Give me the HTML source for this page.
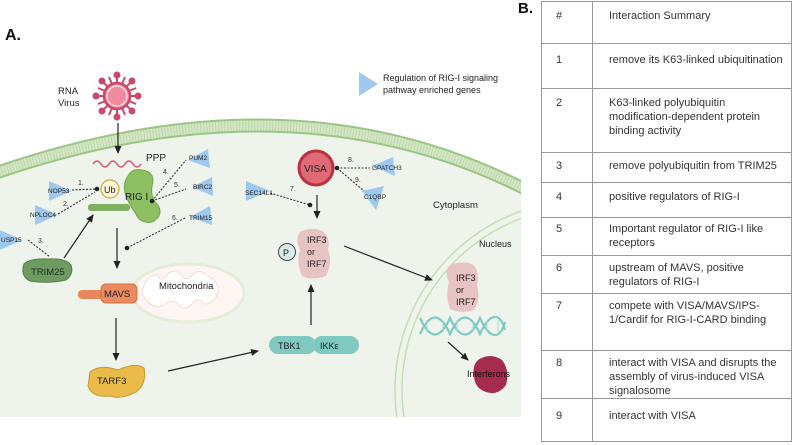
<!DOCTYPE html>
<html><head><meta charset="utf-8"><style>
html,body{margin:0;width:793px;height:445px;overflow:hidden}
body{background:#fff;font-family:"Liberation Sans",sans-serif;position:relative}
svg{position:absolute;left:0;top:0;display:block}
svg text{font-family:"Liberation Sans",sans-serif}
.h{position:absolute;left:541px;width:251px;height:1px;background:#999}
.v{position:absolute;top:1px;width:1px;height:441px;background:#999}
.c1{position:absolute;left:556px;font-size:11px;color:#333}
.c2{position:absolute;left:609px;width:180px;font-size:11px;line-height:14px;color:#333}
</style></head><body>
<svg width="530" height="440" viewBox="0 0 530 440">
<defs>
<clipPath id="pc"><rect x="0" y="0" width="521" height="417"/></clipPath>
<marker id="ar" markerWidth="8" markerHeight="8" refX="7" refY="4" orient="auto" markerUnits="userSpaceOnUse"><path d="M0,0.5 L8,4 L0,7.5 Z" fill="#222"/></marker>
</defs>
<text x="5" y="40" font-size="16" font-weight="bold" fill="#111">A.</text>
<g clip-path="url(#pc)">
<path d="M-10 170 Q300 60 540 192 L540 420 L-10 420 Z" fill="#eef4ec"/>
<path d="M-10 175 Q300 66 540 197" fill="none" stroke="#d4e6c6" stroke-width="13"/>
<path d="M-10 175 Q300 66 540 197" fill="none" stroke="#bcd8a8" stroke-width="13" stroke-dasharray="1 2"/>
<path d="M-10 169 Q300 60 540 191" fill="none" stroke="#9cc585" stroke-width="2"/>
<path d="M-10 181 Q300 72 540 203" fill="none" stroke="#9cc585" stroke-width="2"/>
<circle cx="585" cy="390" r="183" fill="none" stroke="#c5deb5" stroke-width="1.5"/>
<circle cx="585" cy="390" r="190" fill="none" stroke="#c5deb5" stroke-width="1.5"/>
</g>
<g stroke="#c94a6a" stroke-width="2" fill="#c94a6a">
<line x1="117" y1="76" x2="117" y2="116"/><line x1="97" y1="96" x2="137" y2="96"/>
<line x1="103" y1="82" x2="131" y2="110"/><line x1="131" y1="82" x2="103" y2="110"/>
<line x1="109" y1="77" x2="125" y2="115"/><line x1="125" y1="77" x2="109" y2="115"/>
<line x1="98" y1="88" x2="136" y2="104"/><line x1="98" y1="104" x2="136" y2="88"/>
<circle cx="117" cy="75" r="2.5"/><circle cx="117" cy="117" r="2.5"/><circle cx="96" cy="96" r="2.5"/><circle cx="138" cy="96" r="2.5"/>
<circle cx="102" cy="81" r="2.5"/><circle cx="132" cy="111" r="2.5"/><circle cx="132" cy="81" r="2.5"/><circle cx="102" cy="111" r="2.5"/>
</g>
<circle cx="117" cy="96" r="13" fill="#f28b9d" stroke="#c94a6a" stroke-width="2.5"/>
<circle cx="117" cy="96" r="10" fill="none" stroke="#fff" stroke-width="1"/>
<text x="58" y="94" font-size="9.5" fill="#222">RNA</text><text x="58" y="106" font-size="9.5" fill="#222">Virus</text>
<path d="M359 72 L378 84 L359 96 Z" fill="#9fc8ee"/>
<text x="383" y="81" font-size="9" fill="#222">Regulation of RIG-I signaling</text>
<text x="383" y="93" font-size="9" fill="#222">pathway enriched genes</text>
<g stroke="#222" stroke-width="1.2" fill="none" marker-end="url(#ar)">
<line x1="118" y1="123" x2="118" y2="153"/>
<line x1="64" y1="258" x2="93" y2="215"/>
<line x1="117" y1="228" x2="117" y2="268"/>
<line x1="116" y1="318" x2="116" y2="360"/>
<line x1="168" y1="371" x2="258" y2="351"/>
<line x1="311" y1="325" x2="311" y2="285"/>
<line x1="317" y1="195" x2="317" y2="218"/>
<line x1="344" y1="246" x2="432" y2="280"/>
<line x1="448" y1="342" x2="468" y2="360"/>
</g>
<path d="M93 164 q4 -6 8 0 t8 0 t8 0 t8 0 t8 0 t8 0" fill="none" stroke="#d9566a" stroke-width="1.5"/>
<text x="146" y="161" font-size="10" fill="#222">PPP</text>
<rect x="88" y="204" width="42" height="7" rx="3" fill="#7fb060"/>
<path d="M128 176 Q132 168 142 170 Q156 172 152 186 Q150 198 158 205 Q164 216 152 222 Q140 224 136 214 Q130 206 126 196 Q122 184 128 176 Z" fill="#8cc063" stroke="#6fa34a"/>
<text x="125" y="200" font-size="10" fill="#222">RIG I</text>
<circle cx="110" cy="189" r="9" fill="#fff6d8" stroke="#c9a53a" stroke-width="1.2"/>
<text x="104" y="193" font-size="9" fill="#222">Ub</text>
<g fill="#9fc8ee">
<path d="M49 181 L72 191 L49 201 Z"/><path d="M35 205 L58 215 L35 225 Z"/>
<path d="M0 230 L22 240 L0 250 Z"/>
<path d="M188 160 L208 149 L210 168 Z"/><path d="M192 187 L212 177 L213 196 Z"/><path d="M190 217 L210 206 L212 225 Z"/>
<path d="M246 181 L270 191 L246 201 Z"/>
<path d="M372 166 L393 157 L395 176 Z"/><path d="M362 191 L384 186 L376 210 Z"/>
</g>
<g font-size="6.5" fill="#222">
<text x="48" y="193">NOP53</text><text x="30" y="217">NPLOC4</text><text x="1" y="242">USP15</text>
<text x="189" y="160">PUM2</text><text x="193" y="189">BIRC2</text><text x="189" y="220">TRIM15</text>
<text x="245" y="195">SEC14L1</text><text x="372" y="170">GPATCH3</text><text x="364" y="199">C1QBP</text>
</g>
<g font-size="7" fill="#333">
<text x="78" y="185">1.</text><text x="63" y="206">2.</text><text x="38" y="243">3.</text>
<text x="163" y="174">4.</text><text x="174" y="187">5.</text><text x="172" y="220">6.</text>
<text x="290" y="191">7.</text><text x="348" y="162">8.</text><text x="355" y="182">9.</text>
</g>
<g stroke="#333" stroke-width="1.1" stroke-dasharray="2 1.5" fill="none">
<line x1="72" y1="190" x2="97" y2="189"/><line x1="58" y1="214" x2="95" y2="192"/>
<line x1="28" y1="240" x2="50" y2="257"/>
<line x1="152" y1="201" x2="186" y2="160"/><line x1="152" y1="201" x2="186" y2="189"/>
<line x1="185" y1="218" x2="127" y2="248"/>
<line x1="270" y1="193" x2="310" y2="205"/>
<line x1="337" y1="168" x2="370" y2="168"/><line x1="337" y1="168" x2="364" y2="191"/>
</g>
<g fill="#222"><circle cx="97" cy="189" r="2.3"/><circle cx="152" cy="201" r="2.3"/><circle cx="127" cy="248" r="2.3"/><circle cx="310" cy="205" r="2.3"/><circle cx="337" cy="168" r="2.3"/></g>
<path d="M24 264 Q30 258 48 259 Q66 258 71 265 Q74 274 66 280 Q48 284 30 281 Q20 276 24 264 Z" fill="#6e9b62" stroke="#557d4a"/>
<text x="31" y="275" font-size="9.5" fill="#1e2e1a">TRIM25</text>
<ellipse cx="188" cy="293" rx="56" ry="29" fill="#fff6f3" stroke="#e6ecd8" stroke-width="3"/>
<path d="M142 293 q3 -18 15 -18 q4 8 10 0 q8 -8 14 0 q6 8 12 -1 q8 -6 14 2 q10 2 11 14 q-2 14 -14 14 q-6 -8 -12 0 q-8 8 -14 0 q-8 -6 -14 1 q-14 6 -22 -12 Z" fill="#fff" stroke="#f1dcd2"/>
<text x="159" y="289" font-size="9.5" fill="#222">Mitochondria</text>
<rect x="78" y="290" width="28" height="9" rx="4" fill="#e8875a"/>
<rect x="101" y="284" width="36" height="19" rx="5" fill="#ea8a60" stroke="#d0703f"/>
<text x="104" y="297" font-size="9.5" fill="#222">MAVS</text>
<path d="M90 372 Q100 364 118 370 Q135 362 144 368 Q147 384 136 392 Q120 400 110 396 Q92 398 88 386 Z" fill="#ebbb4a" stroke="#c79a2e"/>
<text x="97" y="384" font-size="9.5" fill="#222">TARF3</text>
<rect x="269" y="336" width="47" height="18" rx="9" fill="#80c9c0"/>
<rect x="313" y="336" width="46" height="18" rx="9" fill="#80c9c0"/>
<text x="278" y="349" font-size="9" fill="#222">TBK1</text><text x="320" y="349" font-size="9" fill="#222">IKKε</text>
<path d="M300 232 Q312 226 322 231 Q331 236 328 250 Q333 262 326 276 Q312 281 302 276 Q296 262 300 250 Q295 240 300 232 Z" fill="#e8c3c3"/>
<circle cx="287" cy="252" r="8.5" fill="#d8ebe8" stroke="#445" stroke-width="1"/>
<text x="283" y="256" font-size="9" fill="#222">P</text>
<g font-size="9" fill="#222"><text x="307" y="243">IRF3</text><text x="307" y="255">or</text><text x="307" y="267">IRF7</text></g>
<circle cx="316" cy="168" r="17" fill="#e06a75" stroke="#b8323f" stroke-width="3"/>
<text x="304" y="172" font-size="10" fill="#222">VISA</text>
<text x="433" y="208" font-size="9.5" fill="#222">Cytoplasm</text>
<text x="479" y="247" font-size="9" fill="#222">Nucleus</text>
<path d="M449 266 Q460 260 472 264 Q480 270 477 285 Q481 300 474 310 Q460 314 450 309 Q445 295 449 282 Q444 272 449 266 Z" fill="#e8c3c3"/>
<g font-size="9" fill="#222"><text x="456" y="281">IRF3</text><text x="456" y="293">or</text><text x="456" y="305">IRF7</text></g>
<path d="M420 318 C430 340 440 340 450 318 C460 340 470 340 480 318 C490 340 500 340 505 322" fill="none" stroke="#7fcbc4" stroke-width="2.2"/>
<path d="M420 334 C430 312 440 312 450 334 C460 312 470 312 480 334 C490 312 500 312 505 330" fill="none" stroke="#7fcbc4" stroke-width="2.2"/>
<g stroke="#a6dad4" stroke-width="1"><line x1="427" y1="320" x2="427" y2="332"/><line x1="443" y1="320" x2="443" y2="332"/><line x1="457" y1="320" x2="457" y2="332"/><line x1="473" y1="320" x2="473" y2="332"/><line x1="487" y1="320" x2="487" y2="332"/><line x1="498" y1="320" x2="498" y2="332"/></g>
<path d="M478 360 Q490 352 502 360 Q510 370 506 385 Q498 396 486 392 Q474 388 474 375 Q472 366 478 360 Z" fill="#a52c4c"/>
<text x="467" y="377" font-size="9" fill="#111">Interferons</text>
</svg>
<div style="position:absolute;left:518px;top:1px;font-size:15px;line-height:16px;font-weight:bold;color:#111">B.</div>
<div class="v" style="left:541px"></div><div class="v" style="left:592px"></div><div class="v" style="left:791px"></div>
<div class="h" style="top:1px"></div><div class="h" style="top:43px"></div><div class="h" style="top:88px"></div>
<div class="h" style="top:152px"></div><div class="h" style="top:182px"></div><div class="h" style="top:217px"></div>
<div class="h" style="top:255px"></div><div class="h" style="top:293px"></div><div class="h" style="top:350px"></div>
<div class="h" style="top:398px"></div><div class="h" style="top:441px"></div>
<div class="c1" style="top:10px">#</div><div class="c2" style="top:9px">Interaction Summary</div>
<div class="c1" style="top:54px">1</div><div class="c2" style="top:53px">remove its K63-linked ubiquitination</div>
<div class="c1" style="top:97px">2</div><div class="c2" style="top:96px">K63-linked polyubiquitin modification-dependent protein binding activity</div>
<div class="c1" style="top:160px">3</div><div class="c2" style="top:159px">remove polyubiquitin from TRIM25</div>
<div class="c1" style="top:191px">4</div><div class="c2" style="top:190px">positive regulators of RIG-I</div>
<div class="c1" style="top:223px">5</div><div class="c2" style="top:222px">Important regulator of RIG-I like receptors</div>
<div class="c1" style="top:262px">6</div><div class="c2" style="top:261px">upstream of MAVS, positive regulators of RIG-I</div>
<div class="c1" style="top:300px">7</div><div class="c2" style="top:299px">compete with VISA/MAVS/IPS-1/Cardif for RIG-I-CARD binding</div>
<div class="c1" style="top:357px">8</div><div class="c2" style="top:356px">interact with VISA and disrupts the assembly of virus-induced VISA signalosome</div>
<div class="c1" style="top:410px">9</div><div class="c2" style="top:409px">interact with VISA</div>
</body></html>
